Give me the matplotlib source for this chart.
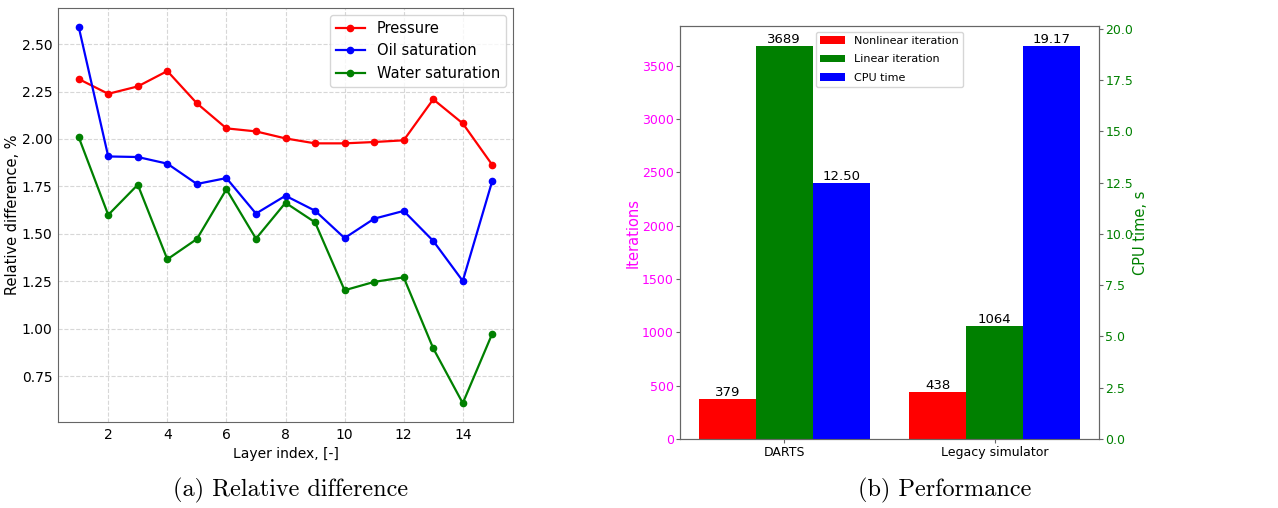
import numpy as np
import matplotlib
matplotlib.use('Agg')
import matplotlib.pyplot as plt

# (a) relative difference per layer
layers = np.arange(1, 16)
pressure = [2.316, 2.238, 2.277, 2.358, 2.188, 2.056, 2.040, 2.003, 1.977, 1.977,
            1.984, 1.993, 2.209, 2.082, 1.863]
oil_sat = [2.591, 1.908, 1.905, 1.870, 1.763, 1.794, 1.607, 1.701, 1.622, 1.478,
           1.580, 1.621, 1.463, 1.252, 1.780]
water_sat = [2.010, 1.600, 1.759, 1.366, 1.473, 1.735, 1.475, 1.664, 1.561, 1.203,
             1.247, 1.271, 0.897, 0.608, 0.975]

# (b) performance
simulators = ['DARTS', 'Legacy simulator']
nonlinear_it = [379, 438]
linear_it = [3689, 1064]
cpu_time = [12.50, 19.17]

spine_col = '#666666'

fig = plt.figure(figsize=(12.78, 5.08), dpi=100)

# stanga
ax1 = fig.add_axes([58 / 1278, 1 - 422 / 508, 455 / 1278, 414 / 508])
ax1.plot(layers, pressure, 'o-', c='red', lw=1.6, ms=4.5, label='Pressure')
ax1.plot(layers, oil_sat, 'o-', c='blue', lw=1.6, ms=4.5, label='Oil saturation')
ax1.plot(layers, water_sat, 'o-', c='green', lw=1.6, ms=4.5, label='Water saturation')
ax1.set_xticks([2, 4, 6, 8, 10, 12, 14])
ax1.grid(True, linestyle='--', alpha=0.5)
ax1.tick_params(labelsize=10, length=0, pad=4)
for s in ax1.spines.values():
    s.set_color(spine_col)
ax1.set_xlabel('Layer index, [-]', fontsize=10)
ax1.set_ylabel('Relative difference, %', fontsize=10.5)
ax1.yaxis.set_label_coords(-0.0835, 0.5)
ax1.legend(loc='upper right', fontsize=10.5)

# dreapta
ax2 = fig.add_axes([680 / 1278, 1 - 439 / 508, 419 / 1278, 413 / 508])
ax3 = ax2.twinx()
x = np.arange(len(simulators))
w = 0.27
b1 = ax2.bar(x - w, nonlinear_it, w, color='red', label='Nonlinear iteration')
b2 = ax2.bar(x, linear_it, w, color='green', label='Linear iteration')
b3 = ax3.bar(x + w, cpu_time, w, color='blue', label='CPU time')
ax2.bar_label(b1, fontsize=9.5)
ax2.bar_label(b2, fontsize=9.5)
ax3.bar_label(b3, fmt='%.2f', fontsize=9.5)
ax2.set_xticks(x)
ax2.set_xticklabels(simulators, fontsize=9)
ax2.set_ylabel('Iterations', color='magenta', fontsize=10.5)
ax3.set_ylabel('CPU time, s', color='green', fontsize=10.5)
ax2.yaxis.set_label_coords(-0.093, 0.5)
ax3.yaxis.set_label_coords(1.08, 0.5)
ax2.tick_params(axis='x', length=3, color=spine_col, pad=2)
ax2.tick_params(axis='y', labelcolor='magenta', color=spine_col, labelsize=9, length=3, pad=1.5)
ax3.tick_params(axis='y', labelcolor='green', color=spine_col, labelsize=9, length=3, pad=1.5)
for a in (ax2, ax3):
    for s in a.spines.values():
        s.set_color(spine_col)
ax2.legend([b1, b2, b3], ['Nonlinear iteration', 'Linear iteration', 'CPU time'],
           loc='upper center', fontsize=8, labelspacing=0.75, handlelength=2.2)

fig.text(291 / 1278, 1 - 490 / 508, '(a) Relative difference', family='cmr10',
         fontsize=17.5, ha='center', va='center')
fig.text(945 / 1278, 1 - 490 / 508, '(b) Performance', family='cmr10',
         fontsize=17.5, ha='center', va='center')

fig.savefig('out.png', dpi=100)
